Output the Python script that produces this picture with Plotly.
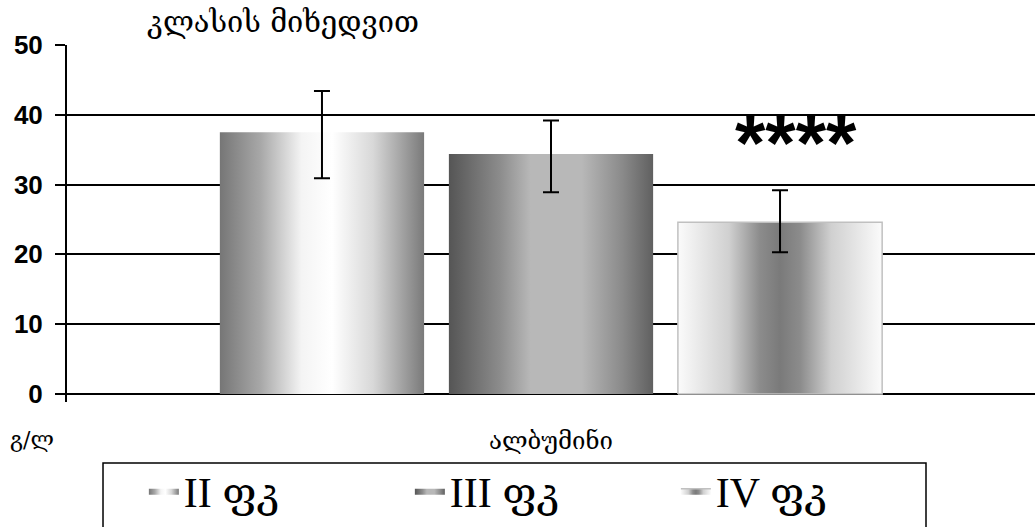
import plotly.graph_objects as go

# ---- data ----
category = ["ალბუმინი"]
groups = ["II ფკ", "III ფკ", "IV ფკ"]
means = [37.5, 34.4, 24.6]
err_plus = [5.9, 4.8, 4.6]
err_minus = [6.6, 5.5, 4.3]
significance = ["", "", "****"]
y_ticks = [0, 10, 20, 30, 40, 50]

# ---- styling ----
gradients = [
    [[0, "#767676"], [0.2, "#a8a8a8"], [0.4, "#f4f4f4"], [0.55, "#ffffff"], [0.75, "#d8d8d8"], [1, "#7a7a7a"]],
    [[0, "#555555"], [0.25, "#8c8c8c"], [0.4, "#b8b8b8"], [0.65, "#b8b8b8"], [0.85, "#8a8a8a"], [1, "#606060"]],
    [[0, "#fbfbfb"], [0.25, "#d0d0d0"], [0.4, "#8c8c8c"], [0.5, "#7a7a7a"], [0.6, "#8c8c8c"], [0.75, "#d0d0d0"], [1, "#fbfbfb"]],
]
border = [None, None, "#c0c0c0"]
slot = 0.2366      # width of one group slot (x units, category width = 1)
bar_w = 0.211      # bar width

fig = go.Figure()
n = len(groups)
cx = [0 + (i - (n - 1) / 2) * slot for i in range(n)]

for i, g in enumerate(groups):
    x0, x1 = cx[i] - bar_w / 2, cx[i] + bar_w / 2
    fig.add_trace(go.Scatter(
        x=[x0, x0, x1, x1, x0], y=[0, means[i], means[i], 0, 0],
        mode="lines", fill="toself",
        fillgradient=dict(type="horizontal", colorscale=gradients[i]),
        line=dict(color=border[i] or "rgba(0,0,0,0)", width=1.5 if border[i] else 0),
        name=g, hoverinfo="skip",
    ))

fig.add_trace(go.Scatter(
    x=cx, y=means, mode="markers",
    marker=dict(size=1, color="rgba(0,0,0,0)"),
    error_y=dict(type="data", symmetric=False, array=err_plus, arrayminus=err_minus,
                 color="black", thickness=2, width=8),
    showlegend=False, hoverinfo="skip",
))

for i, s in enumerate(significance):
    if s:
        fig.add_annotation(x=cx[i], y=means[i] + err_plus[i] + 0.2, text=s, showarrow=False,
                           xref="x", yref="y", yanchor="bottom", xshift=16,
                           font=dict(family="Liberation Sans", size=78, weight="bold", color="black"))

fig.add_annotation(text="გ/ლ", xref="paper", yref="paper", x=-0.036, y=-0.105,
                   xanchor="center", yanchor="middle", showarrow=False,
                   font=dict(family="DejaVu Serif", size=22, color="black"))

# legend frame (box extends past the bottom edge, as in the reference)
fig.add_shape(type="rect", xref="paper", yref="paper", x0=0.0372, x1=0.8874, y0=-0.171, y1=-0.45,
              line=dict(color="black", width=1.5), fillcolor="rgba(0,0,0,0)", layer="below")

fig.update_layout(
    width=1035, height=527,
    margin=dict(l=67, r=0, t=45, b=125, autoexpand=False),
    paper_bgcolor="white", plot_bgcolor="white",
    title=dict(text="კლასის მიხედვით", x=0.2734, xref="container", xanchor="center",
               y=0.958, yref="container", yanchor="middle",
               font=dict(family="DejaVu Serif", size=29, color="black")),
    xaxis=dict(range=[-0.5, 0.5], tickvals=[0], ticktext=category, showgrid=False,
               zeroline=False, showline=False, ticks="",
               ticklabelstandoff=22,
               tickfont=dict(family="DejaVu Serif", size=24, color="black")),
    yaxis=dict(range=[-1.15, 50], tickvals=y_ticks, showgrid=True, gridcolor="black", gridwidth=2,
               zeroline=True, zerolinecolor="black", zerolinewidth=2,
               showline=True, linecolor="black", linewidth=2,
               ticks="outside", ticklen=10, tickwidth=2, tickcolor="black",
               ticklabelstandoff=7,
               tickfont=dict(family="Liberation Sans", size=26, weight="bold", color="black")),
    legend=dict(orientation="h", xref="container", yref="container", x=0.139, y=0.1328,
                xanchor="left", yanchor="top", borderwidth=0, bgcolor="rgba(0,0,0,0)",
                entrywidth=221, itemwidth=30,
                font=dict(family="Liberation Serif, DejaVu Serif", size=42, color="black")),
    showlegend=True,
)

fig.write_html("out.html", config={"displayModeBar": False},
               post_script="document.body.style.margin='0';")
